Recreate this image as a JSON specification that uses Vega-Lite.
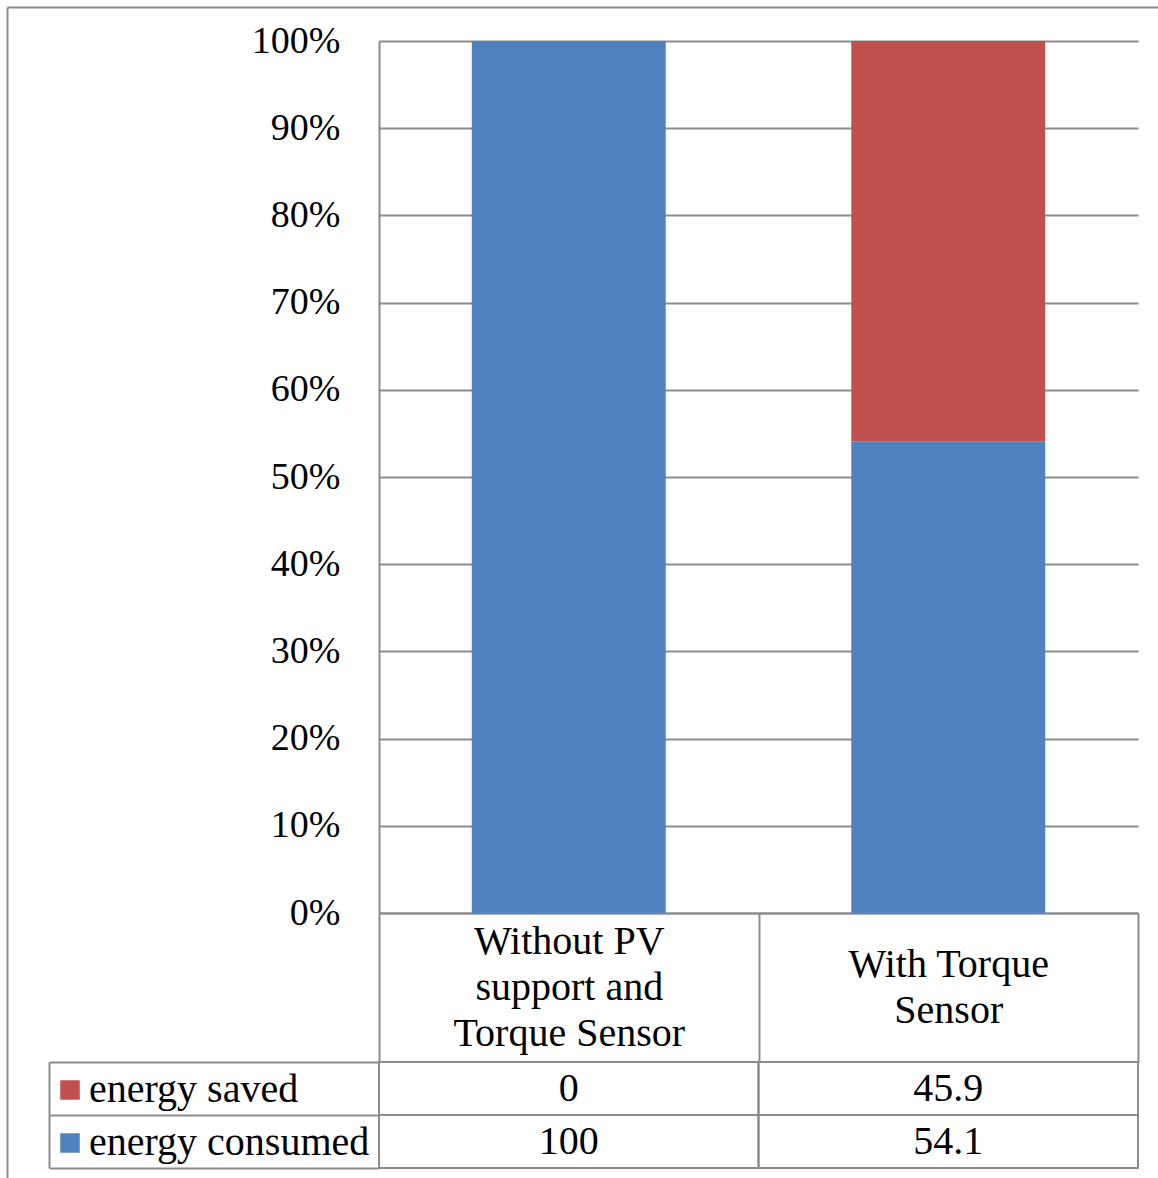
{
  "$schema": "https://vega.github.io/schema/vega-lite/v6.json",
  "width": 759,
  "height": 872,
  "autosize": {"type": "none"},
  "padding": {"left": 379, "top": 41, "right": 20, "bottom": 265},
  "background": "white",
  "config": {"view": {"stroke": null}, "font": "Liberation Serif"},
  "data": {
    "values": [
      {"category": "Without PV support and Torque Sensor", "series": "energy saved", "value": 0},
      {"category": "Without PV support and Torque Sensor", "series": "energy consumed", "value": 100},
      {"category": "With Torque Sensor", "series": "energy saved", "value": 45.9},
      {"category": "With Torque Sensor", "series": "energy consumed", "value": 54.1}
    ]
  },
  "layer": [
    {
      "layer": [
        {
          "mark": {"type": "bar", "width": {"band": 0.511}},
          "encoding": {
            "x": {
              "field": "category", "type": "nominal",
              "scale": {"domain": ["Without PV support and Torque Sensor", "With Torque Sensor"], "paddingInner": 0, "paddingOuter": 0},
              "axis": {
                "orient": "bottom", "title": null, "grid": false, "labelAngle": 0,
                "tickBand": "extent", "tickSize": 149, "tickColor": "#8c8c8c", "tickWidth": 2,
                "domainColor": "#8c8c8c", "domainWidth": 2,
                "labelExpr": "datum.value == 'With Torque Sensor' ? ['With Torque', 'Sensor'] : (datum.value == 'Without PV support and Torque Sensor' ? ['Without PV', 'support and', 'Torque Sensor'] : '')",
                "labelFont": "Liberation Serif", "labelFontSize": 40, "labelLineHeight": 46,
                "labelColor": "black", "labelBaseline": "middle",
                "labelPadding": {"condition": {"test": "datum.value == 'With Torque Sensor'", "value": -97.5}, "value": -120.5},
                "labelOverlap": false, "labelBound": false, "labelLimit": 0
              }
            },
            "y": {
              "field": "value", "type": "quantitative", "stack": "zero",
              "scale": {"domain": [0, 100], "nice": false},
              "axis": {
                "orient": "left", "title": null, "values": [0, 10, 20, 30, 40, 50, 60, 70, 80, 90, 100],
                "labelExpr": "datum.value + '%'", "ticks": false, "labelPadding": 39,
                "labelFont": "Liberation Serif", "labelFontSize": 38, "labelColor": "black",
                "domainColor": "#8c8c8c", "domainWidth": 2,
                "grid": true, "gridColor": "#8c8c8c", "gridWidth": 2
              }
            },
            "color": {
              "field": "series", "type": "nominal",
              "scale": {"domain": ["energy saved", "energy consumed"], "range": ["#C0504D", "#4F81BD"]},
              "legend": {
                "orient": "none", "legendX": -329, "legendY": 1029, "title": null,
                "symbolType": "square", "symbolSize": 380, "symbolStrokeWidth": 0,
                "labelFont": "Liberation Serif", "labelFontSize": 40, "labelColor": "black",
                "labelOffset": -1, "rowPadding": 13, "padding": 0, "labelLimit": 0
              }
            },
            "order": {"field": "series", "sort": "ascending"}
          }
        },
        {
          "layer": [
            {
              "mark": {"type": "rect", "fill": "transparent", "stroke": "#8c8c8c", "strokeWidth": 2},
              "encoding": {
                "x": {"field": "category", "type": "nominal"},
                "y": {
                  "field": "series", "type": "nominal",
                  "scale": {"domain": ["energy saved", "energy consumed"], "range": [1021, 1127], "paddingInner": 0, "paddingOuter": 0},
                  "axis": {
                    "orient": "left", "offset": 330, "title": null, "labels": false, "grid": false,
                    "tickBand": "extent", "tickSize": -330, "tickColor": "#8c8c8c", "tickWidth": 2,
                    "domainColor": "#8c8c8c", "domainWidth": 2
                  }
                }
              }
            },
            {
              "mark": {"type": "text", "font": "Liberation Serif", "fontSize": 40, "color": "black"},
              "encoding": {
                "x": {"field": "category", "type": "nominal"},
                "y": {"field": "series", "type": "nominal"},
                "text": {"field": "value", "type": "quantitative", "format": "~g"}
              }
            }
          ]
        }
      ],
      "resolve": {"scale": {"y": "independent"}, "axis": {"y": "independent"}}
    },
    {
      "mark": {"type": "point", "opacity": 0},
      "encoding": {
        "x": {
          "field": "value", "type": "quantitative",
          "scale": {"domain": [0, 1], "range": [-372, 1200], "nice": false, "zero": false},
          "axis": {"orient": "top", "offset": 34, "title": null, "labels": false, "ticks": false, "grid": false, "domainColor": "#8c8c8c", "domainWidth": 2}
        },
        "y": {
          "field": "value", "type": "quantitative",
          "scale": {"domain": [0, 1], "range": [1200, -34], "nice": false, "zero": false},
          "axis": {"orient": "left", "offset": 372, "title": null, "labels": false, "ticks": false, "grid": false, "domainColor": "#8c8c8c", "domainWidth": 2}
        }
      }
    }
  ],
  "resolve": {"scale": {"x": "independent", "y": "independent"}}
}
